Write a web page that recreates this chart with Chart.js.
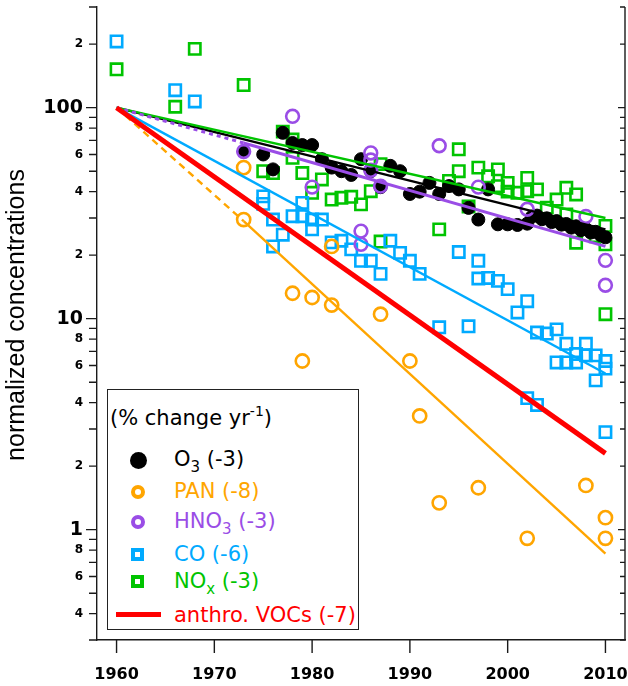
<!DOCTYPE html>
<html><head><meta charset="utf-8">
<script src="https://cdn.jsdelivr.net/npm/chart.js@4.4.1/dist/chart.umd.min.js"></script>
<style>
html,body{margin:0;padding:0;background:#fff;}
#wrap{position:relative;width:628px;height:686px;overflow:hidden;}
#c{position:absolute;left:0;top:0;}
#legend{position:absolute;left:107px;top:389px;width:252px;height:241px;border:1.5px solid #222;box-sizing:border-box;background:#fff;font-family:"DejaVu Sans",sans-serif;font-size:21px;}
#legend .t{position:absolute;white-space:nowrap;line-height:24px;height:24px;}
#legend sub{font-size:15px;line-height:0;vertical-align:-6px;}
#legend sup{font-size:14px;line-height:0;vertical-align:9px;}
.mk{position:absolute;box-sizing:border-box;}
</style></head>
<body>
<div id="wrap">
<canvas id="c" width="628" height="686"></canvas>
<div id="legend">
  <div class="t" style="left:2px;top:16px;color:#000">(% change yr<sup>-1</sup>)</div>
  <div class="mk" style="left:22px;top:62px;width:17px;height:17px;border-radius:50%;background:#000"></div>
  <div class="t" style="left:66px;top:57px;color:#000">O<sub>3</sub> (-3)</div>
  <div class="mk" style="left:23px;top:95px;width:14px;height:14px;border-radius:50%;border:4px solid #FFA500"></div>
  <div class="t" style="left:66px;top:89px;color:#FFA500">PAN (-8)</div>
  <div class="mk" style="left:23px;top:125px;width:14px;height:14px;border-radius:50%;border:4px solid #9A4DE6"></div>
  <div class="t" style="left:66px;top:119px;color:#9A4DE6">HNO<sub>3</sub> (-3)</div>
  <div class="mk" style="left:23px;top:158px;width:13px;height:13px;border:4px solid #00AAFF"></div>
  <div class="t" style="left:66px;top:152px;color:#00AAFF">CO (-6)</div>
  <div class="mk" style="left:23px;top:185px;width:13px;height:13px;border:4px solid #00C400"></div>
  <div class="t" style="left:66px;top:179px;color:#00C400">NO<sub>x</sub> (-3)</div>
  <div class="mk" style="left:8px;top:222px;width:45px;height:5px;background:#FF0000"></div>
  <div class="t" style="left:66px;top:213px;color:#FF0000">anthro. VOCs (-7)</div>
</div>
</div>
<script>
// ---- axis ticks ----
const xTickValues = [1960, 1970, 1980, 1990, 2000, 2010];
const xTickLabels = ['1960', '1970', '1980', '1990', '2000', '2010'];
const yTickValues = [0.3,0.4,0.5,0.6,0.7,0.8,0.9,1,2,3,4,5,6,7,8,9,10,20,30,40,50,60,70,80,90,100,200,300];
const yTickLabels = ['','4','','6','','8','','1','2','','4','','6','','8','','10','2','','4','','6','','8','','100','2',''];
const yMajorTicks = [1, 10, 100];
const yTitle = 'normalized concentrations';

// ---- scatter series ----
const o3Years = [1973,1975,1976,1977,1978,1979,1980,1981,1982,1983,1984,1985,1986,1987,1988,1989,1990,1991,1992,1993,1994,1995,1996,1997,1998,1999,2000,2001,2002,2002.5,2003,2003.5,2004,2004.5,2005,2005.5,2006,2006.5,2007,2007.5,2008,2008.5,2009,2009.5,2010];
const o3Values = [62,60,51,76,68,66.5,66.5,57,52,50,48,57,50,42,53,50,39,40,44,39,42.5,41,33.5,29.5,41,28,28,27.8,28.2,30.5,30.8,29.6,29.9,28.7,29.0,27.9,28.1,27.0,27.4,26.3,26.6,25.6,25.8,24.9,24.3];

const panYears = [1973,1973,1978,1979,1980,1982,1982,1987,1990,1991,1993,1997,2002,2008,2010,2010];
const panValues = [52,29.5,13.2,6.3,12.6,11.6,22,10.5,6.3,3.46,1.34,1.58,0.91,1.62,1.14,0.91];

const hno3Years = [1973,1978,1980,1985,1985,1986,1986,1986,1987,1993,1997,2002,2008,2010,2010];
const hno3Values = [62,91,42,26,22.5,61,56.5,50.5,42.5,66,42,33,30.5,18.9,14.4];

const coYears = [1960,1966,1968,1975,1975,1976,1976,1977,1978,1979,1979,1980,1980,1981,1982,1983,1984,1985,1986,1987,1988,1989,1990,1991,1993,1995,1996,1997,1997,1998,1999,2000,2001,2002,2002,2003,2003,2004,2005,2005,2006,2006,2007,2007,2008,2008,2009,2009,2010,2010,2010];
const coValues = [206,121,107,38,35,29.5,22,25,30.6,35.4,30.6,29.5,26.5,29.5,23,23.4,21.3,18.8,18.8,16.3,23.4,20.5,18.8,16.3,9.1,20.7,9.2,18.8,15.5,15.6,15.1,13.8,10.7,12.1,4.2,8.6,3.9,8.5,8.9,6.2,7.6,6.2,6.8,6.2,7.6,6.7,6.7,5.1,6.3,5.8,2.9];

const noxYears = [1960,1966,1968,1973,1975,1976,1977,1978,1978,1979,1980,1981,1982,1983,1984,1985,1986,1987,1987,1993,1994,1995,1995,1996,1997,1998,1999,1999,2000,2000,2001,2002,2002,2003,2004,2005,2006,2006,2007,2007,2009,2010,2010,2010];
const noxValues = [152,101,190,128,50,49,77,70.6,57.8,49,39.5,45.7,36.7,37.4,37.8,34.8,40.2,54,23.2,26.5,45,63.5,50,34,52,47.3,51,42.5,44,40,39.5,46.5,40.2,41,33.6,36.7,41.7,31.2,38.8,22.9,24.6,27.5,22.5,10.5];

// ---- trend lines ----
const o3TrendYears = [1960, 2010];     const o3Trend = [100, 26.5];
const panTrendYears = [1960, 1973, 2010]; const panTrend = [100, 29, 0.77];
const hno3TrendYears = [1960, 1973, 2010]; const hno3Trend = [100, 68, 22];
const coTrendYears = [1960, 2010];     const coTrend = [100, 5.5];
const noxTrendYears = [1960, 2010];    const noxTrend = [100, 30];
const vocTrendYears = [1960, 2010];    const vocTrend = [100, 2.3];

const COL = {o3:'#000000', pan:'#FFA500', hno3:'#9A4DE6', co:'#00AAFF', nox:'#00C400', voc:'#FF0000'};
const pts = (xs, ys) => xs.map((x, i) => ({x, y: ys[i]}));

function trend(xs, ys, color, width, dash, dashUntil) {
  return {
    data: pts(xs, ys), showLine: true, borderColor: color, borderWidth: width,
    pointRadius: 0, pointHoverRadius: 0, fill: false, tension: 0,
    segment: dash ? {borderDash: c => (c.p1.parsed.x <= dashUntil ? dash : [])} : undefined
  };
}
function scat(xs, ys, color, style, r, filled) {
  return {
    data: pts(xs, ys), showLine: false, pointStyle: style, pointRadius: r, pointHoverRadius: r,
    borderColor: color, backgroundColor: filled ? color : 'rgba(0,0,0,0)', borderWidth: filled ? 1 : 2.6
  };
}

const axisDecor = {
  id: 'axisDecor',
  afterDraw(chart) {
    const {ctx, chartArea: a, scales: {x, y}} = chart;
    ctx.save();
    ctx.strokeStyle = '#1a1a1a';
    ctx.lineWidth = 1.4;
    ctx.beginPath();
    ctx.moveTo(a.right, a.top); ctx.lineTo(a.right, a.bottom + 0.7);
    yTickValues.forEach(v => {
      const py = y.getPixelForValue(v);
      const major = yMajorTicks.includes(v);
      ctx.moveTo(a.left - (major ? 11 : 8), py); ctx.lineTo(a.left, py);
      ctx.moveTo(a.right, py); ctx.lineTo(a.right - (major ? 7 : 5), py);
    });
    xTickValues.forEach(v => {
      const px = x.getPixelForValue(v);
      ctx.moveTo(px, a.bottom); ctx.lineTo(px, a.bottom + 13);
    });
    ctx.stroke();
    // y-axis title
    ctx.translate(17, 315);
    ctx.rotate(-Math.PI / 2);
    ctx.fillStyle = '#000';
    ctx.font = '25px "Liberation Sans"';
    ctx.textAlign = 'center';
    ctx.textBaseline = 'middle';
    ctx.fillText(yTitle, 0, 0);
    ctx.restore();
  }
};

new Chart(document.getElementById('c'), {
  type: 'scatter',
  data: {
    datasets: [
      trend(vocTrendYears, vocTrend, COL.voc, 5),
      trend(panTrendYears, panTrend, COL.pan, 2.4, [7, 5], 1973),
      trend(coTrendYears, coTrend, COL.co, 2.4),
      trend(hno3TrendYears, hno3Trend, COL.hno3, 3, [4, 4], 1973),
      trend(noxTrendYears, noxTrend, COL.nox, 2.4),
      trend(o3TrendYears, o3Trend, COL.o3, 2.4),
      scat(hno3Years, hno3Values, COL.hno3, 'circle', 6.4, false),
      scat(panYears, panValues, COL.pan, 'circle', 6.6, false),
      scat(o3Years, o3Values, COL.o3, 'circle', 6.5, true),
      scat(coYears, coValues, COL.co, 'rect', 8, false),
      scat(noxYears, noxValues, COL.nox, 'rect', 8, false)
    ]
  },
  options: {
    responsive: false, animation: false, devicePixelRatio: 1,
    events: [],
    layout: {autoPadding: false, padding: {left: 0, right: 3, top: 7, bottom: 0}},
    plugins: {legend: {display: false}, tooltip: {enabled: false}},
    scales: {
      x: {
        type: 'linear', min: 1958, max: 2012,
        afterBuildTicks: s => { s.ticks = xTickValues.map(v => ({value: v})); },
        afterFit: s => { s.height = 46; s.paddingLeft = 0; s.paddingRight = 0; },
        grid: {display: false, drawTicks: true, tickLength: 25},
        border: {display: true, color: '#1a1a1a', width: 1.4},
        ticks: {
          autoSkip: false, maxRotation: 0, padding: 0, color: '#000',
          font: {family: 'DejaVu Sans', size: 16, weight: 'bold'},
          callback: (v, i) => xTickLabels[i]
        }
      },
      y: {
        type: 'logarithmic', min: 0.3, max: 300,
        afterBuildTicks: s => { s.ticks = yTickValues.map(v => ({value: v, major: yMajorTicks.includes(v)})); },
        afterFit: s => { s.width = 97; s.paddingTop = 0; s.paddingBottom = 0; },
        grid: {display: false, drawTicks: true, tickLength: 14},
        border: {display: true, color: '#1a1a1a', width: 1.4},
        title: {display: false},
        ticks: {
          autoSkip: false, padding: 0, color: '#000',
          major: {enabled: false},
          font: c => (c.tick && yMajorTicks.includes(c.tick.value))
            ? {family: 'DejaVu Sans', size: 19, weight: 'bold'}
            : {family: 'DejaVu Sans', size: 12, weight: 'bold'},
          callback: (v, i) => (yTickLabels[i] ? yTickLabels[i] : null)
        }
      }
    }
  },
  plugins: [axisDecor]
});
</script>
</body></html>
